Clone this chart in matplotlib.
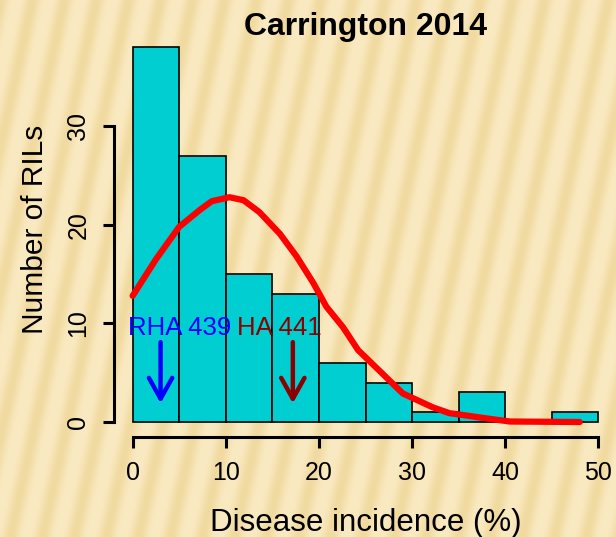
import matplotlib

matplotlib.use("Agg")
import matplotlib.pyplot as plt
import numpy as np

plt.rcParams["font.family"] = ["Liberation Sans", "DejaVu Sans"]

# histogram of disease incidence (bins of 5 %)
bin_edges = [0, 5, 10, 15, 20, 25, 30, 35, 40, 45, 50]
counts = [38, 27, 15, 13, 6, 4, 1, 3, 0, 1]

# fitted curve
curve_x = [0, 2.5, 5, 7.2, 8.5, 10.4, 11.9, 13.6, 15.8, 17.6, 19.4, 20.8,
           22.6, 24.2, 26.5, 29, 32.2, 34, 38.5, 40.5, 48]
curve_y = [12.8, 16.5, 19.8, 21.5, 22.4, 22.8, 22.5, 21.3, 19.1, 16.8, 14.1, 11.7,
           9.6, 7.3, 5.2, 2.9, 1.5, 0.9, 0.3, 0.05, 0.0]

# parent lines
parent_names = ["RHA 439", "HA 441"]
parent_colors = ["#0000FF", "#8B0000"]
parent_label_x = [5.0, 15.8]
parent_value = [3.0, 17.2]

fig = plt.figure(figsize=(6.16, 5.37), dpi=100)

# striped beige slide background
bg = fig.add_axes([0, 0, 1, 1], zorder=-10)
yy, xx = np.mgrid[0:537, 0:616]
wave = (0.5 + 0.5 * np.cos(2 * np.pi * (xx + 0.22 * yy) / 32.0)) ** 1.5
light = np.array([250, 234, 194]) / 255.0
dark = np.array([241, 218, 160]) / 255.0
img = light[None, None, :] * (1 - wave[..., None]) + dark[None, None, :] * wave[..., None]
bg.imshow(img, aspect="auto", interpolation="bilinear")
bg.axis("off")

ax = fig.add_axes([114 / 616, 1 - 437 / 537, 503 / 616, 404.6 / 537])
ax.set_facecolor("none")

lefts = bin_edges[:-1]
widths = np.diff(bin_edges)
ax.bar(lefts, counts, width=widths, align="edge", color="#00CED1",
       edgecolor="black", linewidth=1.2, zorder=2)

ax.plot(curve_x, curve_y, color="#FF0000", linewidth=4.5, zorder=3,
        solid_capstyle="round", solid_joinstyle="round")

for name, col, lx, px in zip(parent_names, parent_colors, parent_label_x, parent_value):
    ax.text(lx, 9.5, name, color=col, fontsize=18.5, ha="center", va="center", zorder=4)
    ax.annotate("", xy=(px, 1.9), xytext=(px, 8.1),
                arrowprops=dict(arrowstyle="->, head_length=0.75, head_width=0.42",
                                color=col, lw=3.2, shrinkA=0, shrinkB=0,
                                mutation_scale=20),
                zorder=4)

ax.set_xlim(-2, 52)
ax.set_ylim(-1.52, 39.52)

for side in ["top", "right"]:
    ax.spines[side].set_visible(False)
ax.spines["left"].set_bounds(0, 30)
ax.spines["bottom"].set_bounds(0, 50)
ax.spines["left"].set_linewidth(2.2)
ax.spines["bottom"].set_linewidth(2.2)

ax.set_xticks([0, 10, 20, 30, 40, 50])
ax.set_yticks([0, 10, 20, 30])
ax.tick_params(axis="both", length=8, width=2.2, labelsize=18, color="black")
ax.tick_params(axis="x", pad=9)
ax.tick_params(axis="y", pad=9)
for lab in ax.get_yticklabels():
    lab.set_rotation(90)
    lab.set_va("center")

ax.set_xlabel("Disease incidence (%)", fontsize=22.5, va="center")
ax.xaxis.set_label_coords(0.5, -0.212)
ax.set_ylabel("Number of RILs", fontsize=21.5, va="center")
ax.yaxis.set_label_coords(-0.157, 0.512)

fig.text(365.5 / 616, 1 - 35 / 537, "Carrington 2014", fontsize=23,
         fontweight="bold", ha="center", va="baseline")

fig.savefig("out.png", dpi=100)
